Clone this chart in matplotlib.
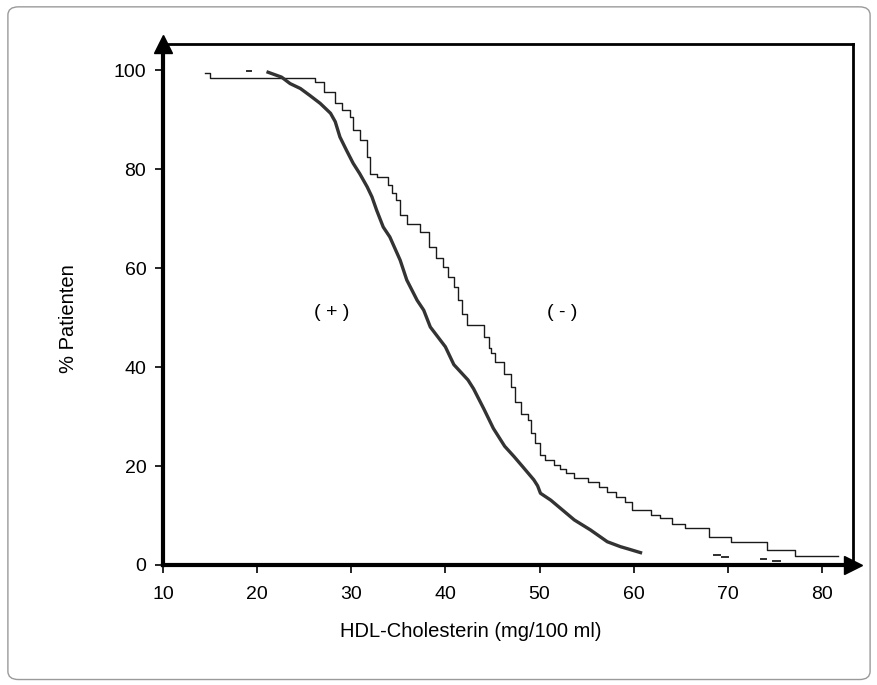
import matplotlib
import matplotlib.pyplot as plt
from matplotlib.patches import FancyBboxPatch

matplotlib.use('Agg')
plt.rcParams['font.family'] = ['Liberation Sans', 'DejaVu Sans']

# (-) group: step curve, x = HDL level where the step happens, y = level after it
neg_x = [14.5, 15.0, 26.2, 27.1, 28.3, 29.0, 29.9, 30.2, 30.9, 31.7, 32.0, 32.7, 33.9, 34.3, 34.8,
         35.2, 35.9, 37.3, 38.3, 39.0, 39.7, 40.3, 40.9, 41.3, 41.8, 42.3, 44.1, 44.6, 44.9, 45.3,
         46.2, 47.0, 47.4, 48.0, 48.8, 49.1, 49.5, 50.1, 50.6, 51.5, 52.2, 52.8, 53.7, 55.1, 56.3,
         57.2, 58.1, 59.1, 59.8, 61.8, 62.8, 64.1, 65.5, 68.0, 70.3, 74.2, 77.1, 81.7]
neg_y = [99.5, 98.5, 97.6, 95.6, 93.3, 91.9, 90.6, 87.9, 85.9, 82.5, 79.1, 78.4, 76.8, 75.1, 73.7,
         70.7, 69.0, 67.3, 64.3, 62.0, 60.3, 58.2, 56.2, 53.5, 50.8, 48.5, 46.1, 43.8, 42.8, 41.1,
         38.7, 36.0, 33.0, 30.6, 29.3, 26.6, 24.6, 22.2, 21.2, 20.2, 19.5, 18.5, 17.5, 16.8, 15.8,
         14.8, 13.8, 12.8, 11.1, 10.1, 9.4, 8.3, 7.4, 5.7, 4.7, 3.0, 1.9, 1.9]

# (+) group: dense curve
pos_x = [21.0, 22.6, 23.5, 24.6, 25.6, 26.7, 27.8, 28.3, 28.8, 29.5, 30.2, 30.9, 31.7, 32.2, 32.7,
         33.4, 34.1, 35.2, 35.9, 37.0, 37.7, 38.4, 40.0, 40.9, 42.4, 43.0, 44.1, 45.1, 46.3, 47.3,
         48.2, 49.4, 49.8, 50.1, 51.2, 52.2, 53.7, 55.4, 57.2, 58.6, 59.5, 60.9]
pos_y = [99.7, 98.6, 97.3, 96.3, 94.9, 93.3, 91.3, 89.6, 86.5, 83.8, 81.2, 79.1, 76.4, 74.4, 71.7,
         68.3, 66.3, 61.6, 57.6, 53.5, 51.5, 48.1, 44.1, 40.5, 37.4, 35.6, 31.5, 27.6, 24.0, 21.9,
         19.9, 17.2, 16.0, 14.5, 13.1, 11.5, 9.1, 7.1, 4.7, 3.7, 3.2, 2.4]

# stray short dashes of the (+) curve
dash_x0 = [18.9, 68.5, 69.4, 73.5, 74.8]
dash_x1 = [19.4, 69.2, 70.0, 74.1, 75.5]
dash_y = [99.9, 2.0, 1.7, 1.2, 0.8]

xticks = [10, 20, 30, 40, 50, 60, 70, 80]
yticks = [0, 20, 40, 60, 80, 100]

fig = plt.figure(figsize=(8.78, 6.85), dpi=100)
fig.patches.append(FancyBboxPatch((0.009, 0.008), 0.982, 0.982, boxstyle='round,pad=0,rounding_size=0.012',
                                  transform=fig.transFigure, facecolor='none', edgecolor='#9a9a9a', lw=1.0))

ax = fig.add_axes([0.1856, 0.1752, 0.7859, 0.7606])
ax.plot(neg_x, neg_y, drawstyle='steps-post', color='#1a1a1a', lw=1.0)
ax.plot(pos_x, pos_y, color='#333333', lw=2.4, solid_capstyle='butt')
for a, b, c in zip(dash_x0, dash_x1, dash_y):
    ax.plot([a, b], [c, c], color='#2e2e2e', lw=1.4)

ax.text(27.9, 51.1, '( + )', fontsize=14, ha='center', va='center')
ax.text(52.4, 51.1, '( - )', fontsize=14, ha='center', va='center')

ax.set_xlim(10, 83.3)
ax.set_ylim(0, 105.3)
ax.set_xticks(xticks)
ax.set_yticks(yticks)
ax.tick_params(labelsize=14, length=6, width=1.2, direction='out')
ax.tick_params(axis='x', pad=9)
ax.tick_params(axis='y', pad=6)
for s in ['left', 'bottom']:
    ax.spines[s].set_linewidth(3)
for s in ['top', 'right']:
    ax.spines[s].set_linewidth(2)

# axis arrows
ax.plot(0, 1, marker='^', color='k', markersize=13, transform=ax.transAxes, clip_on=False)
ax.plot(1, 0, marker='>', color='k', markersize=13, transform=ax.transAxes, clip_on=False)

ax.set_xlabel('HDL-Cholesterin (mg/100 ml)', fontsize=14.5)
ax.set_ylabel('% Patienten', fontsize=14.5)
ax.xaxis.set_label_coords(0.446, -0.109)
ax.yaxis.set_label_coords(-0.123, 0.472)

fig.savefig('out.png')
